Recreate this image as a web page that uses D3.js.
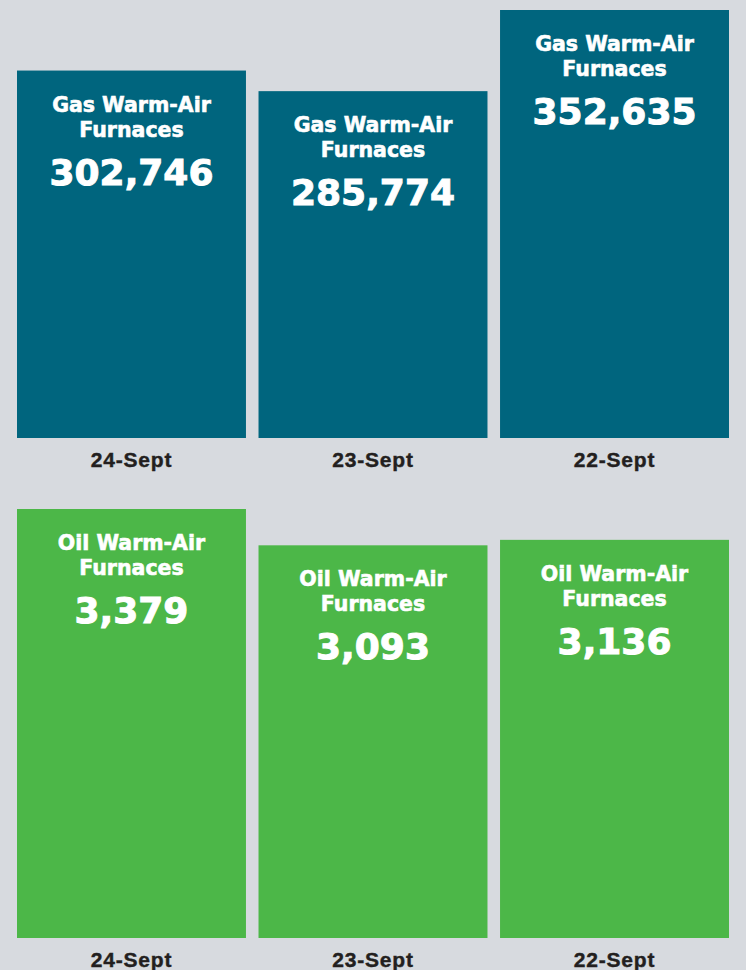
<!DOCTYPE html>
<html>
<head>
<meta charset="utf-8">
<script src="https://cdn.jsdelivr.net/npm/d3@7"></script>
<style>
  body { margin: 0; background: #d7dadf; }
  svg { display: block; }
</style>
</head>
<body>
<script>
let dates = ['24-Sept', '23-Sept', '22-Sept']
let gasValues = [302746, 285774, 352635]
let oilValues = [3379, 3093, 3136]
let gasTitle = ['Gas Warm-Air', 'Furnaces']
let oilTitle = ['Oil Warm-Air', 'Furnaces']

let width = 746, height = 970

let svg = d3.select('body').append('svg')
  .attr('width', width)
  .attr('height', height)

svg.append('rect')
  .attr('width', width).attr('height', height)
  .attr('fill', '#d7dadf')

let scaleX = d3.scaleBand().range([17, 729]).domain(dates).paddingInner(0.052).paddingOuter(0)

let fmt = d3.format(',')

function panel(values, title, color, base, top) {
  let scaleY = d3.scaleLinear().range([base, top]).domain([0, d3.max(values)])
  let data = dates.map((d, i) => ({date: d, value: values[i]}))

  let g = svg.append('g')

  let bars = g.selectAll('g.bar')
    .data(data)
    .enter().append('g')
    .attr('class', 'bar')

  bars.append('rect')
    .attr('x', d => scaleX(d.date))
    .attr('y', d => scaleY(d.value))
    .attr('width', scaleX.bandwidth())
    .attr('height', d => scaleY(0) - scaleY(d.value))
    .attr('fill', color)

  let cx = d => scaleX(d.date) + scaleX.bandwidth() / 2

  title.forEach((t, k) => {
    bars.append('text')
      .attr('x', cx)
      .attr('y', d => scaleY(d.value) + 41 + k * 25)
      .attr('text-anchor', 'middle')
      .attr('fill', '#fff')
      .attr('stroke', '#fff')
      .attr('stroke-width', 0.6)
      .attr('font-family', 'DejaVu Sans')
      .attr('font-weight', 'bold')
      .attr('font-size', 20.5)
      .text(t)
  })

  bars.append('text')
    .attr('x', cx)
    .attr('y', d => scaleY(d.value) + 114)
    .attr('text-anchor', 'middle')
    .attr('fill', '#fff')
    .attr('stroke', '#fff')
    .attr('stroke-width', 1)
    .attr('font-family', 'DejaVu Sans')
    .attr('font-weight', 'bold')
    .attr('font-size', 36)
    .text(d => fmt(d.value))

  // date labels under the bars
  g.append('g')
    .attr('transform', 'translate(0,' + base + ')')
    .call(d3.axisBottom(scaleX).tickSize(0).tickPadding(0))
    .call(a => a.select('.domain').remove())
    .selectAll('text')
    .attr('dy', 0)
    .attr('y', 29)
    .attr('fill', '#231f20')
    .attr('stroke', '#231f20')
    .attr('stroke-width', 0.4)
    .attr('font-family', 'Liberation Sans')
    .attr('font-weight', 'bold')
    .attr('font-size', 21)
    .attr('letter-spacing', 0.8)
}

panel(gasValues, gasTitle, '#00657e', 438, 10)
panel(oilValues, oilTitle, '#4cb748', 938, 509)
</script>
</body>
</html>
